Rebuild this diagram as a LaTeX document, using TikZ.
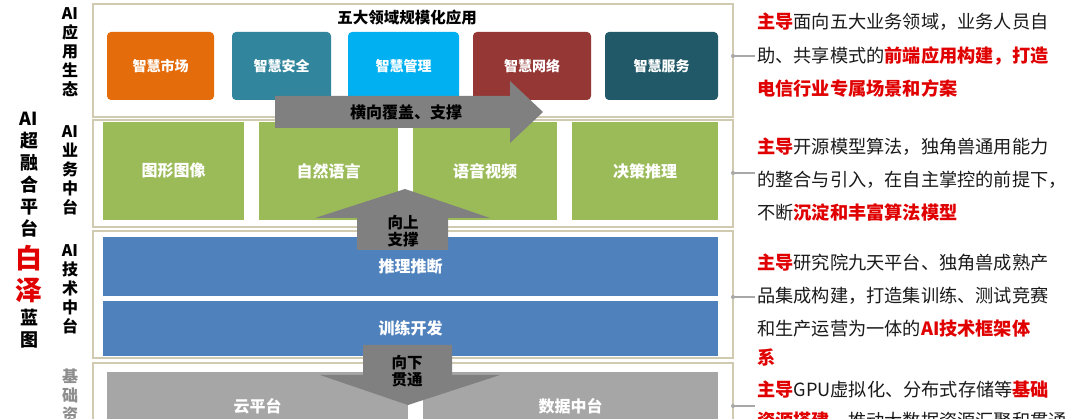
\documentclass[tikz,border=0pt]{standalone}
\usepackage{fontspec}
\newfontfamily\cjk{Noto Sans CJK SC}
\definecolor{cOrange}{HTML}{E46C0A}
\definecolor{cTeal}{HTML}{31859C}
\definecolor{cCyan}{HTML}{00B0F0}
\definecolor{cMaroon}{HTML}{953735}
\definecolor{cDarkTeal}{HTML}{215968}
\definecolor{cGreen}{HTML}{9BBB59}
\definecolor{cBlue}{HTML}{4F81BD}
\definecolor{cGray}{HTML}{A6A6A6}
\definecolor{cArrow}{HTML}{808080}
\definecolor{cFrame}{HTML}{CFCAB0}
\definecolor{cRed}{HTML}{E00000}
\definecolor{cText}{HTML}{1A1A1A}
\definecolor{cConn}{HTML}{A8A8A8}
\newcommand{\hl}[1]{\textcolor{cRed}{\bfseries #1}}
\tikzset{
  layerframe/.style={draw=cFrame, line width=1.4pt, fill=white, rectangle, inner sep=0pt, outer sep=0pt},
  appbox/.style={rectangle, rounded corners=4pt, inner sep=0pt, outer sep=0pt, minimum height=68pt, text=white, font=\cjk\bfseries\fontsize{14}{16}\selectfont},
  midbox/.style={rectangle, inner sep=0pt, outer sep=0pt, text=white, font=\cjk\bfseries\fontsize{16}{18}\selectfont},
  sidelab/.style={align=center, font=\cjk\bfseries\fontsize{16}{19}\selectfont, inner sep=0pt},
  biglab/.style={align=center, font=\cjk\bfseries\fontsize{18}{22}\selectfont, inner sep=0pt},
  arrowshape/.style={fill=cArrow, draw=none},
  arrowlab/.style={align=center, font=\cjk\bfseries\fontsize{16}{18}\selectfont, inner sep=0pt, text=black},
  desc/.style={anchor=west, inner sep=0pt, text=cText, font=\cjk\fontsize{18.2}{20}\selectfont},
  conn/.style={draw=cConn, line width=1.6pt},
}
\begin{document}
\begin{tikzpicture}[x=1pt,y=-1pt]
\useasboundingbox (0,0) rectangle (1080,419);
\clip (0,0) rectangle (1080,419);
\fill[white] (0,0) rectangle (1080,419);

% left labels
\node[biglab] (lab1) at (29,175) {AI\\超\\融\\合\\平\\台};
\node[align=center, inner sep=0pt, text=cRed, font=\cjk\bfseries\fontsize{27}{32}\selectfont] (lab2) at (29,274) {白\\泽};
\node[biglab] (lab3) at (29,329) {蓝\\图};

\node[sidelab] (s1) at (70,52.5) {AI\\应\\用\\生\\态};
\node[sidelab] (s2) at (70,170) {AI\\业\\务\\中\\台};
\node[sidelab] (s3) at (70,289) {AI\\技\\术\\中\\台};
\node[sidelab, text=cArrow!90!white] (s4) at (70,395) {基\\础\\资};

% layer frames
\node[layerframe, minimum width=640pt, minimum height=113pt] (f1) at (413,60.5) {};
\node[layerframe, minimum width=640pt, minimum height=107pt] (f2) at (413,173.5) {};
\node[layerframe, minimum width=640pt, minimum height=127pt] (f3) at (413,294.5) {};
\node[layerframe, minimum width=640pt, minimum height=80pt] (f4) at (413,403) {};

% layer 1
\node[font=\cjk\bfseries\fontsize{15.5}{17}\selectfont, inner sep=0pt] (title) at (407,18) {五大领域规模化应用};
\node[appbox, fill=cOrange, minimum width=107pt] (a1) at (160.5,66) {智慧市场};
\node[appbox, fill=cTeal, minimum width=99pt] (a2) at (281.5,66) {智慧安全};
\node[appbox, fill=cCyan, minimum width=111pt] (a3) at (403.5,66) {智慧管理};
\node[appbox, fill=cMaroon, minimum width=118pt] (a4) at (532,66) {智慧网络};
\node[appbox, fill=cDarkTeal, minimum width=113pt] (a5) at (661.5,66) {智慧服务};

% layer 2
\node[midbox, fill=cGreen, minimum width=141pt, minimum height=98pt] (b1) at (173.5,171) {图形图像};
\node[midbox, fill=cGreen, minimum width=139pt, minimum height=98pt] (b2) at (328.5,171) {自然语言};
\node[midbox, fill=cGreen, minimum width=144pt, minimum height=98pt] (b3) at (485,171) {语音视频};
\node[midbox, fill=cGreen, minimum width=146pt, minimum height=98pt] (b4) at (645,171) {决策推理};

% layer 3
\node[midbox, fill=cBlue, minimum width=615pt, minimum height=59pt] (c1) at (410.5,266.5) {推理推断};
\node[midbox, fill=cBlue, minimum width=615pt, minimum height=55pt] (c2) at (410.5,328.5) {训练开发};

% layer 4
\node[midbox, fill=cGray, minimum width=301pt, minimum height=68pt] (d1) at (257.5,406) {云平台};
\node[midbox, fill=cGray, minimum width=295pt, minimum height=68pt] (d2) at (570.5,406) {数据中台};

% arrows
\fill[arrowshape] (275,96) -- (510,96) -- (510,81) -- (543,112) -- (510,143) -- (510,128) -- (275,128) -- cycle;
\node[arrowlab] (t1) at (406,112) {横向覆盖、支撑};
\fill[arrowshape] (405,189) -- (490,218) -- (448,218) -- (448,250) -- (357,250) -- (357,218) -- (315,218) -- cycle;
\node[arrowlab, font=\cjk\bfseries\fontsize{15.5}{17}\selectfont] (t2) at (403,231) {向上\\支撑};
\fill[arrowshape] (363,345) -- (452,345) -- (452,375) -- (500,375) -- (408,405) -- (320,375) -- (363,375) -- cycle;
\node[arrowlab, font=\cjk\bfseries\fontsize{15.5}{17}\selectfont] (t3) at (407,371) {向下\\贯通};

% connectors
\coordinate (k1a) at (733,56);  \coordinate (k1b) at (755,56);
\coordinate (k2a) at (733,173); \coordinate (k2b) at (755,173);
\coordinate (k3a) at (733,297); \coordinate (k3b) at (755,297);
\coordinate (k4a) at (733,406); \coordinate (k4b) at (755,406);
\foreach \k in {1,2,3,4}{
  \draw[conn] (k\k a) -- (k\k b);
  \fill[cConn] (k\k a) circle (2pt);
}

% descriptions
\node[desc] (p11) at (757,22) {\hl{主导}面向五大业务领域，业务人员自};
\node[desc] (p12) at (757,56) {助、共享模式的\hl{前端应用构建，打造}};
\node[desc] (p13) at (757,89) {\hl{电信行业专属场景和方案}};
\node[desc] (p21) at (757,147) {\hl{主导}开源模型算法，独角兽通用能力};
\node[desc] (p22) at (757,180) {的整合与引入，在自主掌控的前提下，};
\node[desc] (p23) at (757,212) {不断\hl{沉淀和丰富算法模型}};
\node[desc] (p31) at (757,263) {\hl{主导}研究院九天平台、独角兽成熟产};
\node[desc] (p32) at (757,296) {品集成构建，打造集训练、测试竞赛};
\node[desc] (p33) at (757,329) {和生产运营为一体的\hl{AI技术框架体}};
\node[desc] (p34) at (757,358) {\hl{系}};
\node[desc] (p41) at (757,390) {\hl{主导}GPU虚拟化、分布式存储等\hl{基础}};
\node[desc] (p42) at (757,421) {\hl{资源搭建}，推动大数据资源汇聚和贯通};
\end{tikzpicture}
\end{document}
